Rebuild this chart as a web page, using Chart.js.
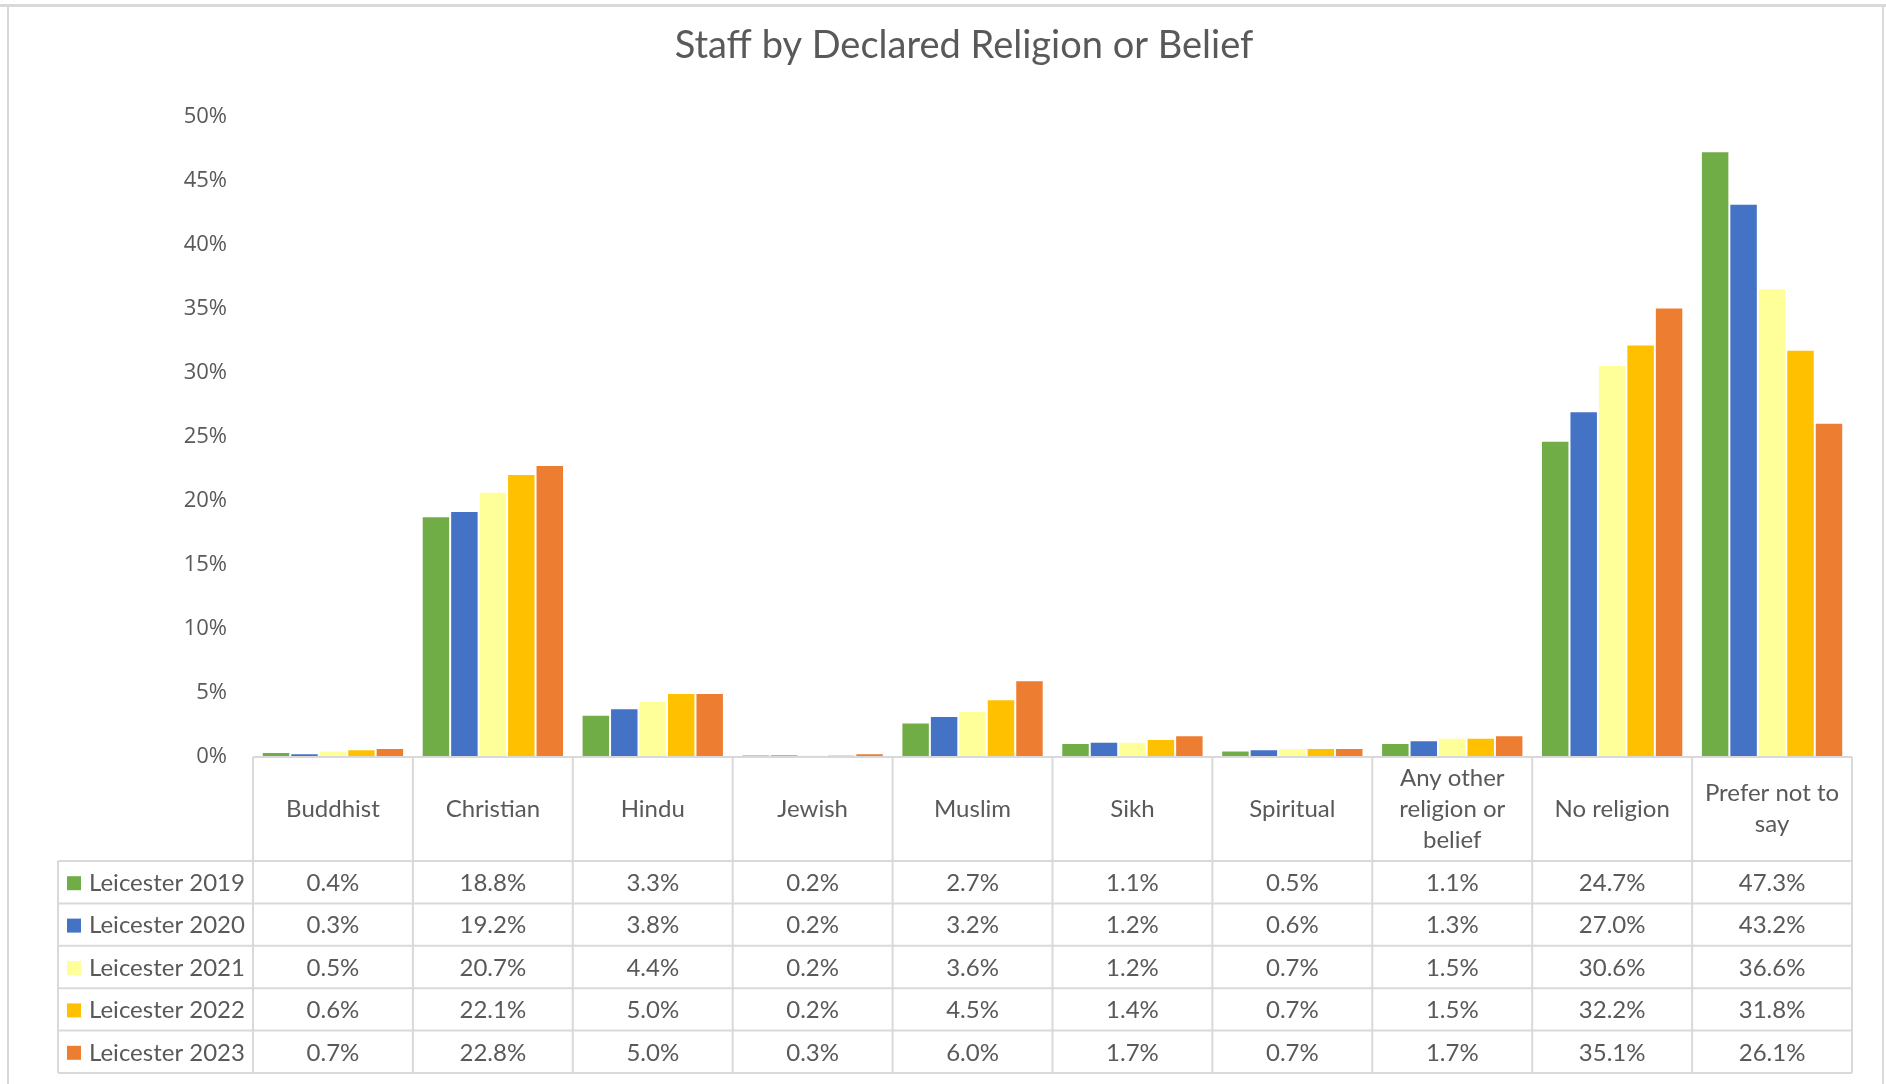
<!DOCTYPE html>
<html>
<head>
<meta charset="utf-8">
<script src="https://cdn.jsdelivr.net/npm/chart.js@4/dist/chart.umd.min.js"></script>
<style>
  html, body { margin: 0; padding: 0; background: #fff; }
  #wrap { width: 1886px; height: 1084px; }
</style>
</head>
<body>
<div id="wrap"><canvas id="religion" width="1886" height="1084"></canvas></div>
<script>
// categories and series (percent of staff)
var categories = ['Buddhist', 'Christian', 'Hindu', 'Jewish', 'Muslim', 'Sikh', 'Spiritual',
  ['Any other', 'religion or', 'belief'], 'No religion', ['Prefer not to', 'say']];
var seriesNames = ['Leicester 2019', 'Leicester 2020', 'Leicester 2021', 'Leicester 2022', 'Leicester 2023'];
var s2019 = [0.4, 18.8, 3.3, 0.2, 2.7, 1.1, 0.5, 1.1, 24.7, 47.3];
var s2020 = [0.3, 19.2, 3.8, 0.2, 3.2, 1.2, 0.6, 1.3, 27.0, 43.2];
var s2021 = [0.5, 20.7, 4.4, 0.2, 3.6, 1.2, 0.7, 1.5, 30.6, 36.6];
var s2022 = [0.6, 22.1, 5.0, 0.2, 4.5, 1.4, 0.7, 1.5, 32.2, 31.8];
var s2023 = [0.7, 22.8, 5.0, 0.3, 6.0, 1.7, 0.7, 1.7, 35.1, 26.1];
var yTicks = [0, 5, 10, 15, 20, 25, 30, 35, 40, 45, 50];

var colours = ['#70AD47', '#4472C4', '#FFFF99', '#FFC000', '#ED7D31'];
var allSeries = [s2019, s2020, s2021, s2022, s2023];

var textGrey = '#595959';
var lineGrey = '#D9D9D9';
var tableFont = '24px Lato';

// frame round the whole chart
var framePlugin = {
  id: 'frame',
  beforeDraw: function (chart) {
    var c = chart.ctx;
    c.save();
    c.fillStyle = '#fff';
    c.fillRect(0, 0, chart.width, chart.height);
    c.strokeStyle = lineGrey;
    c.lineWidth = 3;
    c.beginPath();
    c.moveTo(0, 5.5); c.lineTo(chart.width, 5.5);
    c.stroke();
    c.lineWidth = 2;
    c.beginPath();
    c.moveTo(8, 5); c.lineTo(8, chart.height);
    c.moveTo(1883, 5); c.lineTo(1883, chart.height);
    c.stroke();
    c.restore();
  }
};

// data table under the plot, lined up with the category axis
var tablePlugin = {
  id: 'dataTable',
  afterDraw: function (chart) {
    var c = chart.ctx;
    var area = chart.chartArea;
    var x = chart.scales.x;
    var colW = (area.right - area.left) / categories.length;
    var top = area.bottom;
    var headH = 104;
    var rowH = 42.4;
    var legendLeft = 58;
    var rowsTop = top + headH;
    var bottom = rowsTop + rowH * allSeries.length;

    c.save();
    c.strokeStyle = lineGrey;
    c.lineWidth = 2;
    c.beginPath();
    // horizontal lines
    c.moveTo(area.left, top); c.lineTo(area.right, top);
    for (var r = 0; r <= allSeries.length; r++) {
      var yy = rowsTop + r * rowH;
      c.moveTo(legendLeft, yy); c.lineTo(area.right, yy);
    }
    // vertical lines
    for (var i = 0; i <= categories.length; i++) {
      var xx = area.left + i * colW;
      c.moveTo(xx, top); c.lineTo(xx, bottom);
    }
    c.moveTo(legendLeft, rowsTop); c.lineTo(legendLeft, bottom);
    c.stroke();

    c.fillStyle = textGrey;
    c.font = tableFont;
    c.textAlign = 'center';
    c.textBaseline = 'middle';
    // header row
    categories.forEach(function (cat, i) {
      var lines = Array.isArray(cat) ? cat : [cat];
      var cx = x.getPixelForValue(i);
      var cy = top + headH / 2;
      var lh = 31;
      lines.forEach(function (ln, k) {
        c.fillText(ln, cx, cy + (k - (lines.length - 1) / 2) * lh);
      });
    });
    // value rows
    allSeries.forEach(function (vals, r) {
      var cy = rowsTop + r * rowH + rowH / 2 + 1;
      vals.forEach(function (v, i) {
        c.fillText(v.toFixed(1) + '%', x.getPixelForValue(i), cy);
      });
      // legend key
      c.fillStyle = colours[r];
      c.fillRect(67, cy - 7, 14, 14);
      c.fillStyle = textGrey;
      c.textAlign = 'left';
      c.fillText(seriesNames[r], 89, cy);
      c.textAlign = 'center';
    });
    c.restore();
  }
};

var ctx = document.getElementById('religion');
var myChart = new Chart(ctx, {
  type: 'bar',
  data: {
    labels: categories,
    datasets: allSeries.map(function (vals, i) {
      return {
        label: seriesNames[i],
        data: vals,
        backgroundColor: colours[i],
        borderColor: 'rgba(255, 255, 255, 0.7)',
        borderWidth: 1,
        categoryPercentage: 0.89,
        barPercentage: 1.0
      };
    })
  },
  options: {
    responsive: false,
    animation: false,
    layout: { padding: { left: 76, right: 34, top: 0, bottom: 327 } },
    plugins: {
      legend: { display: false },
      tooltip: { enabled: false },
      title: {
        display: true,
        text: 'Staff by Declared Religion or Belief',
        color: textGrey,
        font: { family: 'Lato', size: 38, weight: 'normal', lineHeight: 1.2 },
        padding: { top: 23, bottom: 48 }
      }
    },
    scales: {
      x: { display: false },
      y: {
        min: 0,
        max: 50,
        afterBuildTicks: function (scale) {
          scale.ticks = yTicks.map(function (v) { return { value: v }; });
        },
        afterFit: function (scale) { scale.width = 177; },
        grid: { display: false, drawTicks: false },
        border: { display: false },
        ticks: {
          padding: 26,
          color: textGrey,
          font: { family: 'Open Sans', size: 22 },
          callback: function (v) { return v + '%'; }
        }
      }
    }
  },
  plugins: [framePlugin, tablePlugin]
});
</script>
</body>
</html>
